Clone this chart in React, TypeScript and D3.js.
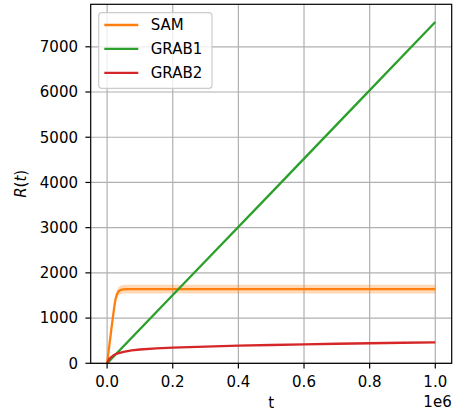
import * as d3 from "d3";
import React from "react";

// time in units of 1e6 steps
const samT = [0, 0.005, 0.01, 0.015, 0.02, 0.025, 0.03, 0.035, 0.04, 0.045, 0.05, 0.06, 0.1, 0.2, 0.4, 0.6, 0.8, 1.0];
const samR = [0, 290, 580, 870, 1150, 1400, 1530, 1590, 1615, 1630, 1637, 1640, 1640, 1640, 1640, 1640, 1640, 1640];
const samSpread = [0, 20, 40, 60, 70, 85, 90, 95, 95, 95, 95, 95, 95, 95, 95, 95, 95, 95];

const grab1T = [0, 0.25, 0.5, 0.75, 1.0];
const grab1R = [0, 1885, 3770, 5660, 7550];

const grab2T = [0, 0.005, 0.01, 0.02, 0.03, 0.05, 0.075, 0.1, 0.15, 0.2, 0.3, 0.4, 0.5, 0.6, 0.7, 0.8, 0.9, 1.0];
const grab2R = [0, 80, 120, 180, 215, 255, 285, 305, 330, 345, 370, 390, 405, 420, 432, 443, 455, 465];

const xTicks = [0, 0.2, 0.4, 0.6, 0.8, 1.0];
const yTicks = [0, 1000, 2000, 3000, 4000, 5000, 6000, 7000];

const legendItems = [
  { name: "SAM", color: "#ff7f0e" },
  { name: "GRAB1", color: "#2ca02c" },
  { name: "GRAB2", color: "#d62728" },
];

const App = () => {
  const width = 455;
  const height = 413;
  const left = 90.7;
  const right = 451.7;
  const top = 4.3;
  const bottom = 363.3;
  const font = "DejaVu Sans, sans-serif";

  const x = d3.scaleLinear().domain([-0.05, 1.05]).range([left, right]);
  const y = d3.scaleLinear().domain([0, 7940]).range([bottom, top]);

  const line = (ts: number[], rs: number[]) =>
    d3
      .line<number>()
      .x((_, i) => x(ts[i]))
      .y((d) => y(d))(rs) || "";

  const band = d3
    .area<number>()
    .x((_, i) => x(samT[i]))
    .y0((d, i) => y(d - samSpread[i]))
    .y1((d, i) => y(d + samSpread[i]))(samR) || "";

  return (
    <svg width={width} height={height} style={{ display: "block", position: "absolute", left: 0, top: 0 }}>
      <rect width={width} height={height} fill="#fff" />
      <defs>
        <clipPath id="plot">
          <rect x={left} y={top} width={right - left} height={bottom - top} />
        </clipPath>
      </defs>
      {/* grid */}
      {xTicks.map((t) => (
        <line key={"gx" + t} x1={x(t)} x2={x(t)} y1={top} y2={bottom} stroke="#b0b0b0" strokeWidth={1.2} />
      ))}
      {yTicks.map((t) => (
        <line key={"gy" + t} x1={left} x2={right} y1={y(t)} y2={y(t)} stroke="#b0b0b0" strokeWidth={1.2} />
      ))}
      <g clipPath="url(#plot)">
        <path d={band} fill="#ff7f0e" fillOpacity={0.3} stroke="none" />
        <path d={line(samT, samR)} fill="none" stroke="#ff7f0e" strokeWidth={2.3} />
        <path d={line(grab1T, grab1R)} fill="none" stroke="#2ca02c" strokeWidth={2.3} />
        <path d={line(grab2T, grab2R)} fill="none" stroke="#d62728" strokeWidth={2.3} />
      </g>
      {/* spines */}
      <rect x={left} y={top} width={right - left} height={bottom - top} fill="none" stroke="#000" strokeWidth={1.2} />
      {/* ticks */}
      {xTicks.map((t) => (
        <g key={"tx" + t}>
          <line x1={x(t)} x2={x(t)} y1={bottom} y2={bottom + 5.3} stroke="#000" strokeWidth={1.2} />
          <text x={x(t)} y={387.3} textAnchor="middle" fontFamily={font} fontSize={15}>
            {d3.format(".1f")(t)}
          </text>
        </g>
      ))}
      {yTicks.map((t) => (
        <g key={"ty" + t}>
          <line x1={left - 5.3} x2={left} y1={y(t)} y2={y(t)} stroke="#000" strokeWidth={1.2} />
          <text x={78} y={y(t)} dy="0.36em" textAnchor="end" fontFamily={font} fontSize={15}>
            {t}
          </text>
        </g>
      ))}
      <text x={right} y={406.5} textAnchor="end" fontFamily={font} fontSize={15}>1e6</text>
      <text x={(left + right) / 2} y={407.5} textAnchor="middle" fontFamily={font} fontSize={15}>t</text>
      <text transform={`translate(25.5, ${(top + bottom) / 2}) rotate(-90)`} textAnchor="middle" fontFamily={font} fontSize={15}>
        <tspan fontStyle="italic">R</tspan>
        <tspan>(</tspan>
        <tspan fontStyle="italic">t</tspan>
        <tspan>)</tspan>
      </text>
      {/* legend */}
      <rect x={98.7} y={12.7} width={113.3} height={75.6} rx={3} fill="#fff" fillOpacity={0.8} stroke="#cccccc" strokeWidth={1.2} />
      {legendItems.map((it, i) => {
        const ly = 25 + i * 23.9;
        return (
          <g key={it.name}>
            <line x1={104.3} x2={138.3} y1={ly} y2={ly} stroke={it.color} strokeWidth={2.3} />
            <text x={150.7} y={ly} dy="0.36em" fontFamily={font} fontSize={15}>
              {it.name}
            </text>
          </g>
        );
      })}
    </svg>
  );
};

export default App;
